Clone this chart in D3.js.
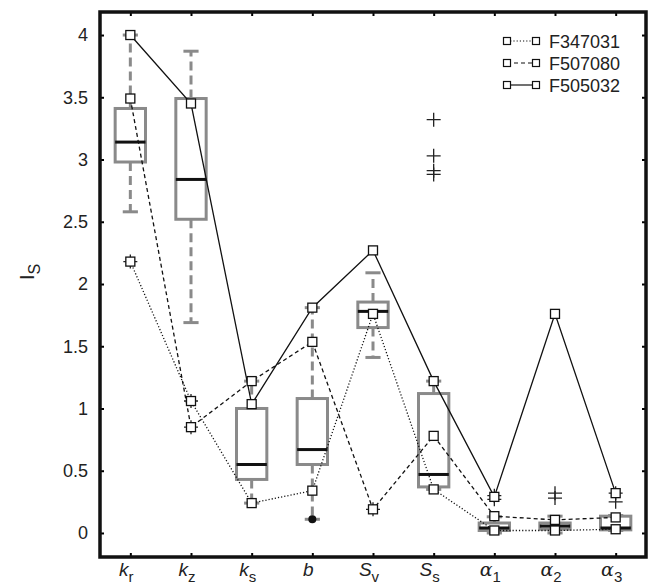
<!DOCTYPE html>
<meta charset="utf-8">
<script src="https://d3js.org/d3.v7.min.js"></script>
<style>
  body { margin: 0; background: #fff; }
  text { font-family: "Liberation Sans", Arial, sans-serif; }
</style>
<body>
<div id="chart"></div>
<script>
// parameters (x axis) - main symbol and subscript
var paramMain = ["k", "k", "k", "b", "S", "S", "\u03b1", "\u03b1", "\u03b1"];
var paramSub  = ["r", "z", "s", "", "v", "s", "1", "2", "3"];
var yTicks = [0, 0.5, 1, 1.5, 2, 2.5, 3, 3.5, 4];

// boxplot stats per parameter
var whiskLo = [2.58, 1.69, 0.24, 0.11, 1.41, 0.35, 0.00, 0.00, 0.02];
var q1      = [2.98, 2.52, 0.43, 0.55, 1.65, 0.37, 0.02, 0.03, 0.025];
var median  = [3.14, 2.84, 0.55, 0.67, 1.78, 0.47, 0.04, 0.055, 0.04];
var q3      = [3.41, 3.49, 1.00, 1.08, 1.855, 1.12, 0.08, 0.08, 0.135];
var whiskHi = [4.00, 3.87, 1.22, 1.81, 2.09, 1.22, 0.13, 0.135, 0.14];

// outliers: [parameter index, value]
var outliers = [[0, 2.18], [1, 1.06], [1, 0.85], [4, 0.19],
  [5, 3.32], [5, 3.03], [5, 2.91], [5, 2.88],
  [6, 0.30], [6, 0.27], [7, 0.32], [7, 0.28], [8, 0.32], [8, 0.25]];
var filledDots = [[3, 0.11]];

// sites
var f347031 = [2.18, 1.06, 0.24, 0.34, 1.76, 0.35, 0.02, 0.02, 0.03];
var f507080 = [3.49, 0.85, 1.22, 1.535, 0.19, 0.78, 0.135, 0.105, 0.125];
var f505032 = [4.00, 3.45, 1.035, 1.81, 2.27, 1.22, 0.29, 1.76, 0.32];
var seriesNames = ["F347031", "F507080", "F505032"];
var seriesData = [f347031, f507080, f505032];
var seriesDash = ["1.2,2", "4,3", null];

var width = 650, height = 582;
var svg = d3.select("#chart").append("svg")
  .attr("width", width).attr("height", height);

var x = d3.scaleLinear().domain([0.5, 9.5]).range([100, 646]);
var y = d3.scaleLinear().domain([-0.193, 4.185]).range([557, 12]);
var idx = d3.range(1, paramMain.length + 1);

// ticks (inside, on all four sides)
svg.append("g").attr("transform", "translate(100,0)")
  .call(d3.axisLeft(y).tickValues(yTicks).tickSizeInner(-4).tickSizeOuter(0).tickPadding(12)
    .tickFormat(function (d) { return d; }))
  .call(function (g) { g.select(".domain").remove(); })
  .call(function (g) {
    g.selectAll("line").attr("stroke", "#000").attr("stroke-width", 2);
    g.selectAll("text").attr("font-size", 18).attr("fill", "#222")
      .attr("font-family", "Liberation Sans, Arial, sans-serif");
  });
svg.append("g").attr("transform", "translate(646,0)")
  .call(d3.axisRight(y).tickValues(yTicks).tickSizeInner(-4).tickSizeOuter(0).tickFormat(""))
  .call(function (g) { g.select(".domain").remove(); g.selectAll("line").attr("stroke-width", 2); });
svg.append("g").attr("transform", "translate(0,557)")
  .call(d3.axisBottom(x).tickValues(idx).tickSizeInner(-4).tickSizeOuter(0).tickFormat(""))
  .call(function (g) { g.select(".domain").remove(); g.selectAll("line").attr("stroke-width", 2); });
svg.append("g").attr("transform", "translate(0,12)")
  .call(d3.axisTop(x).tickValues(idx).tickSizeInner(-4).tickSizeOuter(0).tickFormat(""))
  .call(function (g) { g.select(".domain").remove(); g.selectAll("line").attr("stroke-width", 2); });

// x labels
var xl = svg.append("g").selectAll("text").data(idx).enter().append("text")
  .attr("x", function (d) { return x(d) - 4; })
  .attr("y", 576)
  .attr("text-anchor", "middle")
  .attr("font-size", 19)
  .attr("fill", "#222");
xl.append("tspan").attr("font-style", "italic")
  .attr("font-family", function (d) { return paramMain[d - 1] == "\u03b1" ? "DejaVu Serif, serif" : null; })
  .text(function (d) { return paramMain[d - 1]; });
xl.append("tspan").attr("font-size", 15).attr("dy", 6)
  .text(function (d) { return paramSub[d - 1]; });

// y label
var yl = svg.append("text")
  .attr("transform", "translate(34,272) rotate(-90)")
  .attr("text-anchor", "middle")
  .attr("font-size", 21)
  .attr("fill", "#222");
yl.append("tspan").text("I");
yl.append("tspan").attr("font-size", 16).attr("dy", 6).text("S");

// boxplots
var gray = "#8a8a8a";
var boxW = 0.5, capW = 0.25;
var boxes = svg.append("g");
idx.forEach(function (d, i) {
  boxes.append("line")
    .attr("x1", x(d)).attr("x2", x(d))
    .attr("y1", y(q3[i])).attr("y2", y(whiskHi[i]))
    .attr("stroke", gray).attr("stroke-width", 3).attr("stroke-dasharray", "9,5");
  boxes.append("line")
    .attr("x1", x(d)).attr("x2", x(d))
    .attr("y1", y(q1[i])).attr("y2", y(whiskLo[i]))
    .attr("stroke", gray).attr("stroke-width", 3).attr("stroke-dasharray", "9,5");
  [whiskLo[i], whiskHi[i]].forEach(function (v) {
    boxes.append("line")
      .attr("x1", x(d - capW / 2)).attr("x2", x(d + capW / 2))
      .attr("y1", y(v)).attr("y2", y(v))
      .attr("stroke", gray).attr("stroke-width", 3);
  });
  boxes.append("rect")
    .attr("x", x(d - boxW / 2)).attr("width", x(d + boxW / 2) - x(d - boxW / 2))
    .attr("y", y(q3[i])).attr("height", y(q1[i]) - y(q3[i]))
    .attr("fill", "#fff").attr("stroke", gray).attr("stroke-width", 3);
  boxes.append("line")
    .attr("x1", x(d - boxW / 2)).attr("x2", x(d + boxW / 2))
    .attr("y1", y(median[i])).attr("y2", y(median[i]))
    .attr("stroke", "#111").attr("stroke-width", 3);
});

// outliers
svg.append("g").selectAll("path").data(outliers).enter().append("path")
  .attr("d", function (d) {
    var cx = x(d[0] + 1), cy = y(d[1]);
    return "M" + (cx - 7) + "," + cy + "H" + (cx + 7) + "M" + cx + "," + (cy - 7) + "V" + (cy + 7);
  })
  .attr("stroke", "#222").attr("stroke-width", 1.3).attr("fill", "none");
svg.append("g").selectAll("circle").data(filledDots).enter().append("circle")
  .attr("cx", function (d) { return x(d[0] + 1); })
  .attr("cy", function (d) { return y(d[1]); })
  .attr("r", 4).attr("fill", "#111");

// site lines
var line = d3.line()
  .x(function (d, i) { return x(i + 1); })
  .y(function (d) { return y(d); });
seriesData.forEach(function (s, k) {
  svg.append("path").datum(s)
    .attr("d", line)
    .attr("fill", "none").attr("stroke", "#111").attr("stroke-width", 1.3)
    .attr("stroke-dasharray", seriesDash[k]);
});
seriesData.forEach(function (s) {
  svg.append("g").selectAll("rect").data(s).enter().append("rect")
    .attr("x", function (d, i) { return x(i + 1) - 4.5; })
    .attr("y", function (d) { return y(d) - 4.5; })
    .attr("width", 9).attr("height", 9)
    .attr("fill", "#fff").attr("stroke", "#111").attr("stroke-width", 1.3);
});

// frame
svg.append("rect")
  .attr("x", 100).attr("y", 12).attr("width", 546).attr("height", 545)
  .attr("fill", "none").attr("stroke", "#111").attr("stroke-width", 3.5);

// legend
var legend = svg.append("g");
seriesNames.forEach(function (n, k) {
  var ly = 41 + k * 22;
  legend.append("line")
    .attr("x1", 507).attr("x2", 536).attr("y1", ly).attr("y2", ly)
    .attr("stroke", "#111").attr("stroke-width", 1.2)
    .attr("stroke-dasharray", seriesDash[k]);
  [507, 536].forEach(function (lx) {
    legend.append("rect")
      .attr("x", lx - 3.5).attr("y", ly - 3.5).attr("width", 7).attr("height", 7)
      .attr("fill", "#fff").attr("stroke", "#111").attr("stroke-width", 1.2);
  });
  legend.append("text")
    .attr("x", 549).attr("y", ly + 6.5)
    .attr("font-size", 18).attr("fill", "#222")
    .text(n);
});
</script>
</body>
